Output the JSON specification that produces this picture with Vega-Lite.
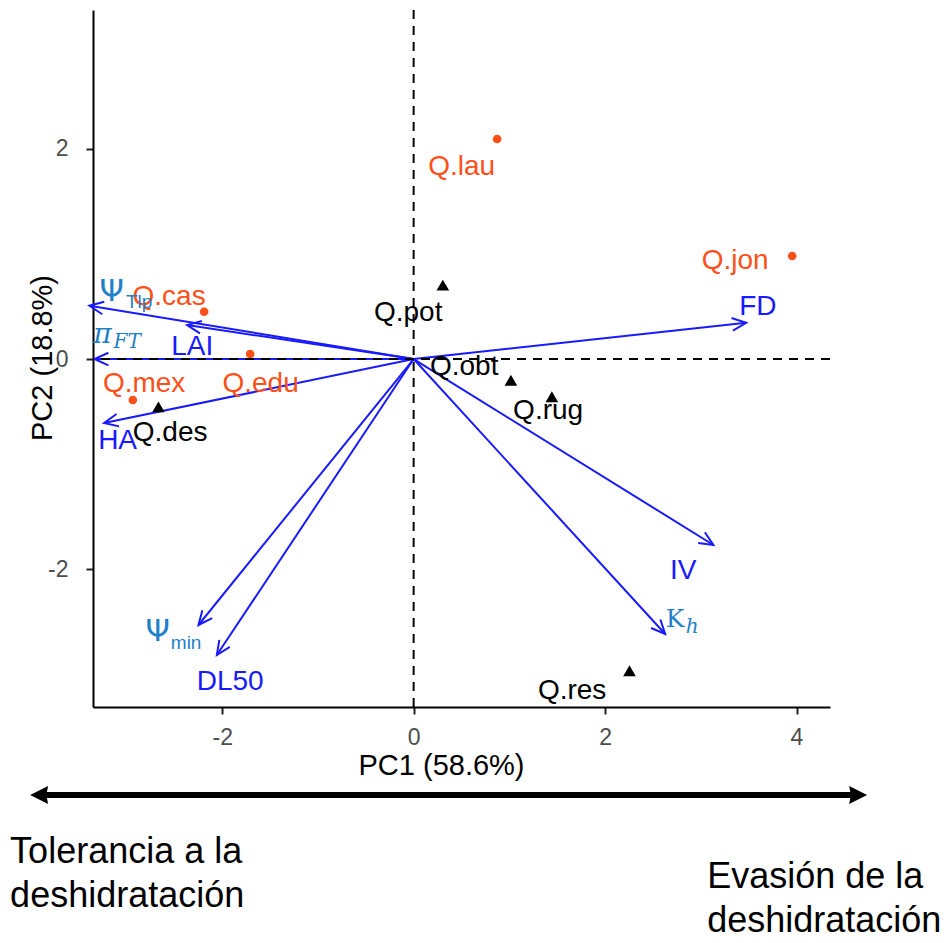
{
  "$schema": "https://vega.github.io/schema/vega-lite/v6.json",
  "width": 737,
  "height": 697,
  "autosize": {"type": "none"},
  "padding": {"left": 93, "top": 10, "right": 120, "bottom": 236},
  "background": "white",
  "config": {
    "font": "Liberation Sans",
    "view": {"stroke": null},
    "axis": {
      "grid": false,
      "domainColor": "#000000",
      "domainWidth": 2,
      "tickColor": "#222222",
      "tickWidth": 2,
      "tickSize": 7,
      "labelFontSize": 23,
      "labelColor": "#4d4d4d",
      "labelFlush": false,
      "labelOverlap": false,
      "labelExpr": "'' + datum.value",
      "titleFontSize": 29,
      "titleFontWeight": "normal",
      "titleColor": "#000000"
    }
  },
  "datasets": {
    "especies": [
      {"especie": "Q.lau", "grupo": "A", "pc1": 0.872, "pc2": 2.093, "lx": 0.502, "ly": 1.826},
      {"especie": "Q.jon", "grupo": "A", "pc1": 3.955, "pc2": 0.98, "lx": 3.359, "ly": 0.932},
      {"especie": "Q.cas", "grupo": "A", "pc1": -2.189, "pc2": 0.45, "lx": -2.555, "ly": 0.59},
      {"especie": "Q.edu", "grupo": "A", "pc1": -1.708, "pc2": 0.048, "lx": -1.599, "ly": -0.238},
      {"especie": "Q.mex", "grupo": "A", "pc1": -2.934, "pc2": -0.39, "lx": -2.816, "ly": -0.238},
      {"especie": "Q.des", "grupo": "B", "pc1": -2.666, "pc2": -0.455, "lx": -2.544, "ly": -0.704},
      {"especie": "Q.pot", "grupo": "B", "pc1": 0.305, "pc2": 0.703, "lx": -0.057, "ly": 0.438},
      {"especie": "Q.obt", "grupo": "B", "pc1": 1.016, "pc2": -0.201, "lx": 0.528, "ly": -0.076},
      {"especie": "Q.rug", "grupo": "B", "pc1": 1.444, "pc2": -0.359, "lx": 1.405, "ly": -0.495},
      {"especie": "Q.res", "grupo": "B", "pc1": 2.255, "pc2": -2.966, "lx": 1.656, "ly": -3.158}
    ],
    "variables": [
      {"variable": "Ψ_Tlp", "pc1": -3.387, "pc2": 0.507},
      {"variable": "π_FT", "pc1": -3.335, "pc2": 0.0},
      {"variable": "LAI", "pc1": -2.367, "pc2": 0.323},
      {"variable": "HA", "pc1": -3.234, "pc2": -0.609},
      {"variable": "Ψ_min", "pc1": -2.248, "pc2": -2.53},
      {"variable": "DL50", "pc1": -2.056, "pc2": -2.816},
      {"variable": "FD", "pc1": 3.474, "pc2": 0.345},
      {"variable": "IV", "pc1": 3.132, "pc2": -1.769},
      {"variable": "K_h", "pc1": 2.628, "pc2": -2.616}
    ],
    "etiquetas": [
      {"txt": "Ψ", "kind": "griega", "lx": -3.155, "ly": 0.637},
      {"txt": "Tlp", "kind": "sub", "lx": -2.868, "ly": 0.542},
      {"txt": "π", "kind": "mathit", "lx": -3.25, "ly": 0.228},
      {"txt": "FT", "kind": "mathsub", "lx": -2.993, "ly": 0.166},
      {"txt": "LAI", "kind": "sans", "lx": -2.314, "ly": 0.114},
      {"txt": "HA", "kind": "sans", "lx": -3.093, "ly": -0.78},
      {"txt": "Ψ", "kind": "griega", "lx": -2.675, "ly": -2.597},
      {"txt": "min", "kind": "sub", "lx": -2.377, "ly": -2.701},
      {"txt": "DL50", "kind": "sans", "lx": -1.917, "ly": -3.072},
      {"txt": "FD", "kind": "sans", "lx": 3.597, "ly": 0.495},
      {"txt": "IV", "kind": "sans", "lx": 2.816, "ly": -2.017},
      {"txt": "K", "kind": "mathup", "lx": 2.732, "ly": -2.473},
      {"txt": "h", "kind": "mathsub", "lx": 2.91, "ly": -2.549}
    ],
    "flecha": [
      {"desde": -3.913, "hasta": 4.644, "nivel": -4.147}
    ],
    "notas": [
      {"txt": "Tolerancia a la\ndeshidratación", "nx": -4.216, "ny": -4.794},
      {"txt": "Evasión de la\ndeshidratación", "nx": 3.067, "ny": -5.032}
    ]
  },
  "layer": [
    {
      "data": {"name": "variables"},
      "mark": {"type": "rule", "color": "#1a1aff", "strokeWidth": 2},
      "encoding": {
        "x": {"field": "pc1", "type": "quantitative",
          "scale": {"domain": [-3.35, 4.35], "nice": false, "zero": false},
          "axis": {"values": [-2, 0, 2, 4], "title": "PC1 (58.6%)", "labelPadding": 12,
            "titleX": 348, "titleY": 58, "titleBaseline": "middle", "titleAlign": "center"}},
        "y": {"field": "pc2", "type": "quantitative",
          "scale": {"domain": [-3.31, 3.32], "nice": false, "zero": false},
          "axis": {"values": [-2, 0, 2], "title": "PC2 (18.8%)", "labelPadding": 18,
            "titleAngle": -90, "titleX": -50.5, "titleY": 347.5, "titleBaseline": "middle", "titleAlign": "center"}},
        "x2": {"datum": 0},
        "y2": {"datum": 0}
      }
    },
    {
      "data": {"name": "variables"},
      "transform": [
        {"calculate": "atan2(-datum.pc2 * 105.13, datum.pc1 * 95.71) * 180 / PI", "as": "ang"}
      ],
      "mark": {"type": "point", "shape": "M-1,-0.45L0,0L-1,0.45", "filled": false, "color": "#1a1aff", "strokeWidth": 2, "size": 784, "opacity": 1},
      "encoding": {
        "x": {"field": "pc1", "type": "quantitative", "scale": {"domain": [-3.35, 4.35], "nice": false, "zero": false}},
        "y": {"field": "pc2", "type": "quantitative", "scale": {"domain": [-3.31, 3.32], "nice": false, "zero": false}},
        "angle": {"field": "ang", "type": "quantitative", "scale": null}
      }
    },
    {
      "data": {"name": "especies"},
      "transform": [{"filter": "datum.grupo === 'A'"}],
      "mark": {"type": "point", "shape": "circle", "filled": true, "color": "#ff5019", "size": 75, "opacity": 1},
      "encoding": {
        "x": {"field": "pc1", "type": "quantitative", "scale": {"domain": [-3.35, 4.35], "nice": false, "zero": false}},
        "y": {"field": "pc2", "type": "quantitative", "scale": {"domain": [-3.31, 3.32], "nice": false, "zero": false}}
      }
    },
    {
      "data": {"name": "especies"},
      "transform": [{"filter": "datum.grupo === 'B'"}],
      "mark": {"type": "point", "shape": "triangle-up", "filled": true, "color": "#000000", "size": 160, "opacity": 1},
      "encoding": {
        "x": {"field": "pc1", "type": "quantitative", "scale": {"domain": [-3.35, 4.35], "nice": false, "zero": false}},
        "y": {"field": "pc2", "type": "quantitative", "scale": {"domain": [-3.31, 3.32], "nice": false, "zero": false}}
      }
    },
    {
      "data": {"name": "especies"},
      "mark": {"type": "text", "align": "center", "baseline": "middle", "fontSize": 28, "font": "Liberation Sans"},
      "encoding": {
        "x": {"field": "lx", "type": "quantitative", "scale": {"domain": [-3.35, 4.35], "nice": false, "zero": false}},
        "y": {"field": "ly", "type": "quantitative", "scale": {"domain": [-3.31, 3.32], "nice": false, "zero": false}},
        "text": {"field": "especie"},
        "color": {"field": "grupo", "type": "nominal", "scale": {"domain": ["A", "B"], "range": ["#ff5019", "#000000"]}, "legend": null}
      }
    },
    {
      "data": {"name": "etiquetas"},
      "transform": [{"filter": "datum.kind === 'sans'"}],
      "mark": {"type": "text", "align": "center", "baseline": "middle", "fontSize": 28, "font": "Liberation Sans", "color": "#1a1aff"},
      "encoding": {
        "x": {"field": "lx", "type": "quantitative", "scale": {"domain": [-3.35, 4.35], "nice": false, "zero": false}},
        "y": {"field": "ly", "type": "quantitative", "scale": {"domain": [-3.31, 3.32], "nice": false, "zero": false}},
        "text": {"field": "txt"}
      }
    },
    {
      "data": {"name": "etiquetas"},
      "transform": [{"filter": "datum.kind === 'griega'"}],
      "mark": {"type": "text", "align": "center", "baseline": "middle", "fontSize": 31, "font": "DejaVu Sans", "color": "#1f80c8"},
      "encoding": {
        "x": {"field": "lx", "type": "quantitative", "scale": {"domain": [-3.35, 4.35], "nice": false, "zero": false}},
        "y": {"field": "ly", "type": "quantitative", "scale": {"domain": [-3.31, 3.32], "nice": false, "zero": false}},
        "text": {"field": "txt"}
      }
    },
    {
      "data": {"name": "etiquetas"},
      "transform": [{"filter": "datum.kind === 'sub'"}],
      "mark": {"type": "text", "align": "center", "baseline": "middle", "fontSize": 19, "font": "Liberation Sans", "color": "#1f80c8"},
      "encoding": {
        "x": {"field": "lx", "type": "quantitative", "scale": {"domain": [-3.35, 4.35], "nice": false, "zero": false}},
        "y": {"field": "ly", "type": "quantitative", "scale": {"domain": [-3.31, 3.32], "nice": false, "zero": false}},
        "text": {"field": "txt"}
      }
    },
    {
      "data": {"name": "etiquetas"},
      "transform": [{"filter": "datum.kind === 'mathit'"}],
      "mark": {"type": "text", "align": "center", "baseline": "middle", "fontSize": 28, "font": "DejaVu Serif", "fontStyle": "italic", "color": "#1f80c8"},
      "encoding": {
        "x": {"field": "lx", "type": "quantitative", "scale": {"domain": [-3.35, 4.35], "nice": false, "zero": false}},
        "y": {"field": "ly", "type": "quantitative", "scale": {"domain": [-3.31, 3.32], "nice": false, "zero": false}},
        "text": {"field": "txt"}
      }
    },
    {
      "data": {"name": "etiquetas"},
      "transform": [{"filter": "datum.kind === 'mathup'"}],
      "mark": {"type": "text", "align": "center", "baseline": "middle", "fontSize": 25, "font": "DejaVu Serif", "fontStyle": "normal", "color": "#1f80c8"},
      "encoding": {
        "x": {"field": "lx", "type": "quantitative", "scale": {"domain": [-3.35, 4.35], "nice": false, "zero": false}},
        "y": {"field": "ly", "type": "quantitative", "scale": {"domain": [-3.31, 3.32], "nice": false, "zero": false}},
        "text": {"field": "txt"}
      }
    },
    {
      "data": {"name": "etiquetas"},
      "transform": [{"filter": "datum.kind === 'mathsub'"}],
      "mark": {"type": "text", "align": "center", "baseline": "middle", "fontSize": 20, "font": "DejaVu Serif", "fontStyle": "italic", "color": "#1f80c8"},
      "encoding": {
        "x": {"field": "lx", "type": "quantitative", "scale": {"domain": [-3.35, 4.35], "nice": false, "zero": false}},
        "y": {"field": "ly", "type": "quantitative", "scale": {"domain": [-3.31, 3.32], "nice": false, "zero": false}},
        "text": {"field": "txt"}
      }
    },
    {
      "data": {"values": [{"ref": 0}]},
      "mark": {"type": "rule", "color": "#000000", "strokeWidth": 2, "strokeDash": [9, 7]},
      "encoding": {
        "x": {"field": "ref", "type": "quantitative", "scale": {"domain": [-3.35, 4.35], "nice": false, "zero": false}}
      }
    },
    {
      "data": {"values": [{"ref": 0}]},
      "mark": {"type": "rule", "color": "#000000", "strokeWidth": 2, "strokeDash": [9, 7]},
      "encoding": {
        "y": {"field": "ref", "type": "quantitative", "scale": {"domain": [-3.31, 3.32], "nice": false, "zero": false}}
      }
    },
    {
      "data": {"name": "flecha"},
      "mark": {"type": "rule", "color": "#000000", "strokeWidth": 6},
      "encoding": {
        "x": {"field": "desde", "type": "quantitative", "scale": {"domain": [-3.35, 4.35], "nice": false, "zero": false}},
        "x2": {"field": "hasta"},
        "y": {"field": "nivel", "type": "quantitative", "scale": {"domain": [-3.31, 3.32], "nice": false, "zero": false}}
      }
    },
    {
      "data": {"name": "flecha"},
      "mark": {"type": "point", "shape": "M-1,0L1,-1L0.8,0L1,1Z", "filled": true, "color": "#000000", "size": 324, "opacity": 1},
      "encoding": {
        "x": {"field": "desde", "type": "quantitative", "scale": {"domain": [-3.35, 4.35], "nice": false, "zero": false}},
        "y": {"field": "nivel", "type": "quantitative", "scale": {"domain": [-3.31, 3.32], "nice": false, "zero": false}}
      }
    },
    {
      "data": {"name": "flecha"},
      "mark": {"type": "point", "shape": "M1,0L-1,-1L-0.8,0L-1,1Z", "filled": true, "color": "#000000", "size": 324, "opacity": 1},
      "encoding": {
        "x": {"field": "hasta", "type": "quantitative", "scale": {"domain": [-3.35, 4.35], "nice": false, "zero": false}},
        "y": {"field": "nivel", "type": "quantitative", "scale": {"domain": [-3.31, 3.32], "nice": false, "zero": false}}
      }
    },
    {
      "data": {"name": "notas"},
      "mark": {"type": "text", "align": "left", "baseline": "alphabetic", "fontSize": 36, "font": "Liberation Sans", "color": "#000000", "lineBreak": "\n", "lineHeight": 44},
      "encoding": {
        "x": {"field": "nx", "type": "quantitative", "scale": {"domain": [-3.35, 4.35], "nice": false, "zero": false}},
        "y": {"field": "ny", "type": "quantitative", "scale": {"domain": [-3.31, 3.32], "nice": false, "zero": false}},
        "text": {"field": "txt"}
      }
    }
  ]
}
